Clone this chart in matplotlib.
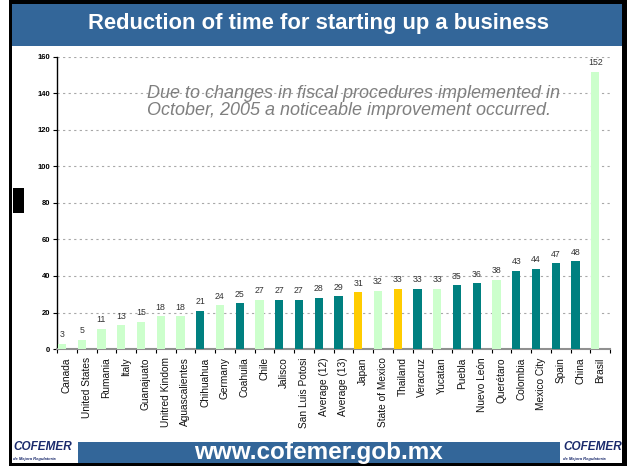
import numpy as np
import matplotlib
matplotlib.use("Agg")
import matplotlib.pyplot as plt
from matplotlib.patches import Rectangle

categories = ["Canada", "United States", "Rumania", "Italy", "Guanajuato",
              "Unitred Kindom", "Aguascalientes", "Chihuahua", "Germany",
              "Coahuila", "Chile", "Jalisco", "San Luis Potosi", "Average (12)",
              "Average (13)", "Japan", "State of Mexico", "Thailand", "Veracruz",
              "Yucatan", "Puebla", "Nuevo León", "Querétaro", "Colombia",
              "Mexico City", "Spain", "China", "Brasil"]
values = [3, 5, 11, 13, 15, 18, 18, 21, 24, 25, 27, 27, 27, 28, 29, 31, 32,
          33, 33, 33, 35, 36, 38, 43, 44, 47, 48, 152]
groups = ["L", "L", "L", "L", "L", "L", "L", "T", "L", "T", "L", "T", "T", "T",
          "T", "G", "L", "G", "T", "L", "T", "T", "L", "T", "T", "T", "T", "L"]
y_ticks = [0, 20, 40, 60, 80, 100, 120, 140, 160]
title = "Reduction of time for starting up a business"
note = ("Due to changes in fiscal procedures implemented in\n"
        "October, 2005 a noticeable improvement occurred.")
url = "www.cofemer.gob.mx"

palette = {"L": "#CCFFCC", "T": "#008080", "G": "#FFCC00"}
banner = "#336699"

plt.rcParams["font.family"] = ["Liberation Sans", "DejaVu Sans"]

W, H = 629, 466
fig = plt.figure(figsize=(W / 100, H / 100), dpi=100)
fig.patch.set_facecolor("white")


def rect(x0, y0, x1, y1, color, z=1):
    fig.add_artist(Rectangle((x0 / W, 1 - y1 / H), (x1 - x0) / W, (y1 - y0) / H,
                             transform=fig.transFigure, facecolor=color,
                             edgecolor="none", zorder=z))


def ftext(x, y, s, **kw):
    fig.text(x / W, 1 - y / H, s, **kw)


# frame and banners
rect(9, 0, 627, 4, "black")
rect(9, 0, 12, 466, "black")
rect(622, 0, 627, 466, "black")
rect(9, 463, 627, 466, "black")
rect(12, 4, 622, 46, banner)
rect(78, 442, 560, 463, banner)
rect(13, 188, 24, 213, "black")

ftext(318, 24, title, ha="center", va="center", color="white",
      fontsize=15.8, fontweight="bold")
ftext(318, 453, url, ha="center", va="center", color="white",
      fontsize=17.5, fontweight="bold")

# logos
for lx in (13, 563):
    ftext(lx, 447, "COFEMER", ha="left", va="center", color="#1a2a6c",
          fontsize=8.5, fontweight="bold", style="italic")
    ftext(lx, 459, "de Mejora Regulatoria", ha="left", va="center",
          color="#1a2a6c", fontsize=3.0, fontweight="bold", style="italic")

ax = fig.add_axes([57 / W, (H - 349) / H, 553 / W, 292 / H])
n = len(values)
x = np.arange(n)
colors = [palette[g] for g in groups]
ax.bar(x + 0.25, values, width=0.42, color=colors, zorder=3)
for xi, v in zip(x, values):
    ax.text(xi + 0.25, v + 2.5, str(v), ha="center", va="bottom",
            fontsize=6.3, color="#333333", zorder=4)

ax.set_xlim(0, n)
ax.set_ylim(0, 160)
ax.set_yticks(y_ticks)
ax.set_yticklabels([str(t) for t in y_ticks], fontsize=5.5, fontweight="bold")
ax.yaxis.grid(True, linestyle=(0, (2, 3)), color="#a8a8a8", linewidth=0.8)
ax.set_axisbelow(True)
ax.tick_params(axis="y", length=3, width=0.8, pad=2, color="black")

ax.set_xticks(x + 0.5)
ax.set_xticklabels(categories, rotation=90, fontsize=7.3, color="#111111")
ax.set_xticks(np.arange(n + 1), minor=True)
ax.tick_params(axis="x", which="major", length=0, pad=6)
ax.tick_params(axis="x", which="minor", length=3, width=0.8, color="black")

for s in ("top", "right"):
    ax.spines[s].set_visible(False)
ax.spines["left"].set_color("black")
ax.spines["left"].set_linewidth(1)
ax.spines["bottom"].set_color("#909090")
ax.spines["bottom"].set_linewidth(1.5)

ftext(147, 102, note, ha="left", va="center", color="#7f7f7f",
      fontsize=13, style="italic", linespacing=0.95)

fig.savefig("out.png", dpi=100)
